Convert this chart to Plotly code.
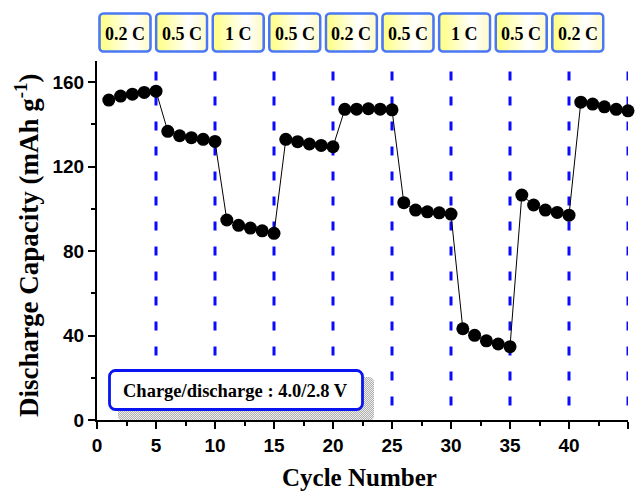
import base64
import plotly.graph_objects as go

# Discharge capacity per cycle (mAh g^-1)
cycles = list(range(1, 46))
capacity = [
    151.5, 153.4, 154.3, 155.1, 155.7,
    136.7, 134.6, 133.7, 132.9, 131.9,
    94.7, 92.2, 90.9, 89.6, 88.4,
    132.9, 131.8, 130.7, 130.0, 129.4,
    147.1, 147.2, 147.4, 147.2, 146.9,
    102.9, 99.4, 98.6, 98.1, 97.5,
    43.2, 40.1, 37.5, 36.0, 34.7,
    106.5, 101.8, 99.4, 98.3, 97.0,
    150.5, 149.6, 148.3, 147.1, 146.4,
]

# C-rate steps, five cycles each
rates = ["0.2 C", "0.5 C", "1 C", "0.5 C", "0.2 C", "0.5 C", "1 C", "0.5 C", "0.2 C"]
step_bounds = [5, 10, 15, 20, 25, 30, 35, 40, 45]

x_ticks = [0, 5, 10, 15, 20, 25, 30, 35, 40, 45]
y_ticks = [0, 40, 80, 120, 160]

condition_text = "Charge/discharge : 4.0/2.8 V"

SERIF = "Liberation Serif"
SANS = "Liberation Sans"

W, H = 635, 492
ML, MR, MT, MB = 97, 7, 61, 72
PW, PH = W - ML - MR, H - MT - MB
X_MAX, Y_MAX = 45, 170


def svg_uri(svg):
    return "data:image/svg+xml;base64," + base64.b64encode(svg.encode()).decode()


def rate_box_svg(w, h):
    return svg_uri(
        f"<svg xmlns='http://www.w3.org/2000/svg' width='{w}' height='{h}' "
        f"viewBox='0 0 {w} {h}' preserveAspectRatio='none'>"
        "<defs><linearGradient id='g' x1='0' x2='1' y1='0' y2='0'>"
        "<stop offset='0' stop-color='#ffff80'/>"
        "<stop offset='0.65' stop-color='#ffffff'/>"
        "<stop offset='1' stop-color='#fffbc4'/>"
        "</linearGradient></defs>"
        f"<rect x='1.5' y='1.5' width='{w - 3}' height='{h - 3}' rx='4' ry='4' "
        "fill='url(#g)' stroke='#4a78f4' stroke-width='2.6'/></svg>"
    )


def note_box_svg(w, h):
    return svg_uri(
        f"<svg xmlns='http://www.w3.org/2000/svg' width='{w}' height='{h}' "
        f"viewBox='0 0 {w} {h}' preserveAspectRatio='none'>"
        f"<rect x='1.5' y='1.5' width='{w - 3}' height='{h - 3}' rx='6' ry='6' "
        "fill='#ffffff' stroke='#0a14f0' stroke-width='2.8'/></svg>"
    )


def shadow_svg(w, h):
    return svg_uri(
        f"<svg xmlns='http://www.w3.org/2000/svg' width='{w}' height='{h}' "
        f"viewBox='0 0 {w} {h}' preserveAspectRatio='none'>"
        "<defs><pattern id='p' width='2' height='2' patternUnits='userSpaceOnUse'>"
        "<rect width='2' height='2' fill='#ececec'/>"
        "<rect width='1' height='1' fill='#b0b0b0'/>"
        "<rect x='1' y='1' width='1' height='1' fill='#b0b0b0'/>"
        "</pattern></defs>"
        f"<rect x='0' y='0' width='{w}' height='{h}' rx='5' ry='5' fill='url(#p)'/></svg>"
    )


def px_to_x(px):
    return (px - ML) / PW * X_MAX


def py_to_y(py):
    return (MT + PH - py) / PH * Y_MAX


fig = go.Figure()

fig.add_trace(go.Scatter(
    x=cycles, y=capacity, mode="lines+markers",
    line=dict(color="black", width=1),
    marker=dict(symbol="circle", size=13, color="black"),
    showlegend=False, cliponaxis=False,
))

shapes = []
for b in step_bounds:
    shapes.append(dict(
        type="line", xref="x", yref="y", x0=b, x1=b, y0=165, y1=0,
        line=dict(color="#0a0aff", width=3, dash="9px,16px"), layer="below",
    ))

images = []
annotations = []

# rate labels above the plot
box_w, box_h = 54, 41
for i, r in enumerate(rates):
    left = 98 + i * 56.6
    top = 12
    images.append(dict(
        source=rate_box_svg(box_w, box_h), xref="paper", yref="paper",
        x=(left - ML) / PW, y=(MT + PH - top) / PH,
        sizex=box_w / PW, sizey=box_h / PH,
        xanchor="left", yanchor="top", sizing="stretch", layer="above",
    ))
    annotations.append(dict(
        text=f"<b>{r}</b>", xref="paper", yref="paper",
        x=(left + box_w / 2 - ML) / PW, y=(MT + PH - (top + box_h / 2 + 1)) / PH,
        xanchor="center", yanchor="middle", showarrow=False,
        font=dict(family=SERIF, size=18, color="black"),
    ))

# test condition note with dithered shadow
note_l, note_t, note_w, note_h = 108, 369, 256, 42
images.append(dict(
    source=shadow_svg(note_w, 44), xref="x", yref="y",
    x=px_to_x(note_l + 10), y=py_to_y(note_t + 8),
    sizex=note_w / PW * X_MAX, sizey=44 / PH * Y_MAX,
    xanchor="left", yanchor="top", sizing="stretch", layer="above",
))
images.append(dict(
    source=note_box_svg(note_w, note_h), xref="x", yref="y",
    x=px_to_x(note_l), y=py_to_y(note_t),
    sizex=note_w / PW * X_MAX, sizey=note_h / PH * Y_MAX,
    xanchor="left", yanchor="top", sizing="stretch", layer="above",
))
annotations.append(dict(
    text=f"<b>{condition_text}</b>", xref="x", yref="y",
    x=px_to_x(note_l + note_w / 2 - 1), y=py_to_y(note_t + note_h / 2 + 1),
    xanchor="center", yanchor="middle", showarrow=False,
    font=dict(family=SERIF, size=18.5, color="black"),
))

# axis titles
annotations.append(dict(
    text="<b>Cycle Number</b>", xref="paper", yref="paper",
    x=(359 - ML) / PW, y=(MT + PH - 477) / PH,
    xanchor="center", yanchor="middle", showarrow=False,
    font=dict(family=SERIF, size=25, color="black"),
))
annotations.append(dict(
    text="<b>Discharge Capacity (mAh g<sup>-1</sup>)</b>", xref="paper", yref="paper",
    x=(27 - ML) / PW, y=(MT + PH - 246) / PH,
    xanchor="center", yanchor="middle", showarrow=False, textangle=-90,
    font=dict(family=SERIF, size=27, color="black"),
))

tick_font = dict(family=SANS, size=19, color="black", weight="bold")

fig.update_layout(
    width=W, height=H,
    margin=dict(l=ML, r=MR, t=MT, b=MB, autoexpand=False),
    paper_bgcolor="white", plot_bgcolor="white",
    shapes=shapes, images=images, annotations=annotations,
    xaxis=dict(
        range=[0, X_MAX], tickvals=x_ticks, ticks="outside", ticklen=7, tickwidth=2,
        tickcolor="black", showline=True, linecolor="black", linewidth=2,
        showgrid=False, zeroline=False, tickfont=tick_font,
        minor=dict(dtick=2.5, ticks="outside", ticklen=4, tickwidth=2, tickcolor="black", showgrid=False),
    ),
    yaxis=dict(
        range=[0, Y_MAX], tickvals=y_ticks, ticks="outside", ticklen=7, tickwidth=2,
        tickcolor="black", showline=True, linecolor="black", linewidth=2,
        showgrid=False, zeroline=False, tickfont=tick_font,
        minor=dict(tickvals=[20, 60, 100, 140], ticks="outside", ticklen=4, tickwidth=2,
                   tickcolor="black", showgrid=False),
    ),
)

fig.write_html("out.html")
